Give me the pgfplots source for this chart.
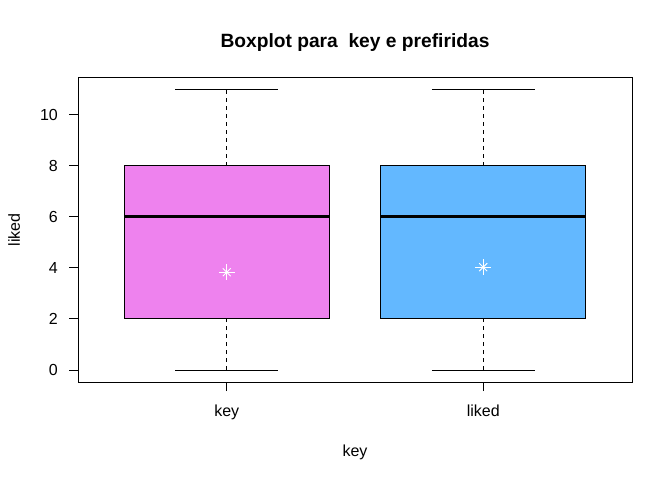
\documentclass[border=0pt]{standalone}
\usepackage{fontspec}
\setmainfont{Liberation Sans}
\usepackage{pgfplots}
\pgfplotsset{compat=1.18}
\definecolor{rviolet}{HTML}{EE82EE}
\definecolor{rsteel}{HTML}{63B8FF}
\begin{document}
\begin{tikzpicture}[x=1pt,y=1pt]
\path[use as bounding box] (0,0) rectangle (672,480);
\begin{axis}[
  at={(78pt,98pt)}, anchor=south west,
  scale only axis, width=554pt, height=304pt,
  xmin=0.42, xmax=2.58, ymin=-0.47, ymax=11.44,
  axis line style={line width=1pt},
  xtick={1,2}, xticklabels={key,liked},
  ytick={0,2,4,6,8,10},
  tick align=outside, xtick pos=bottom, ytick pos=left,
  major tick length=9pt,
  tick style={line width=1pt, black},
  /pgf/number format/assume math mode=true,
  ticklabel style={font=\fontsize{16}{19}\selectfont, inner sep=0pt},
  yticklabel style={anchor=east, xshift=-11pt},
  xticklabel style={anchor=base, yshift=-25pt},
  title={\textbf{Boxplot para\ \ key e prefiridas}},
  title style={font=\fontsize{19.2}{22}\selectfont, inner sep=0pt, at={(axis description cs:0.5,1)}, anchor=base, yshift=24.8pt},
  xlabel={key}, ylabel={liked},
  label style={font=\fontsize{16}{19}\selectfont, inner sep=0pt},
  xlabel style={at={(axis description cs:0.5,0)}, anchor=base, yshift=-74pt},
  ylabel style={at={(axis description cs:0,0.5)}, anchor=base, yshift=58pt},
  clip=false,
]
% boxes
\addplot[fill=rviolet, draw=black, line width=1pt] coordinates {(0.6,2) (1.4,2) (1.4,8) (0.6,8)} -- cycle;
\addplot[fill=rsteel, draw=black, line width=1pt] coordinates {(1.6,2) (2.4,2) (2.4,8) (1.6,8)} -- cycle;
% medians
\addplot[black, line width=3pt] coordinates {(0.6,6) (1.4,6)};
\addplot[black, line width=3pt] coordinates {(1.6,6) (2.4,6)};
% whiskers
\addplot[black, line width=1pt, dash pattern=on 4pt off 4pt] coordinates {(1,0) (1,2)};
\addplot[black, line width=1pt, dash pattern=on 4pt off 4pt] coordinates {(1,8) (1,11)};
\addplot[black, line width=1pt, dash pattern=on 4pt off 4pt] coordinates {(2,0) (2,2)};
\addplot[black, line width=1pt, dash pattern=on 4pt off 4pt] coordinates {(2,8) (2,11)};
% staples
\addplot[black, line width=1pt] coordinates {(0.8,0) (1.2,0)};
\addplot[black, line width=1pt] coordinates {(0.8,11) (1.2,11)};
\addplot[black, line width=1pt] coordinates {(1.8,0) (2.2,0)};
\addplot[black, line width=1pt] coordinates {(1.8,11) (2.2,11)};
% means
\addplot[only marks, white, mark=+, mark size=8pt, mark options={line width=0.9pt}] coordinates {(1,3.83) (2,4.03)};
\addplot[only marks, white, mark=x, mark size=5.6pt, mark options={line width=0.9pt}] coordinates {(1,3.83) (2,4.03)};
\end{axis}
\end{tikzpicture}
\end{document}
